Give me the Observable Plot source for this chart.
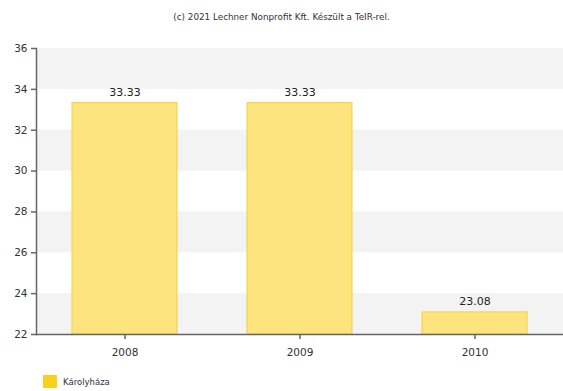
<!DOCTYPE html>
<html>
<head>
<meta charset="utf-8">
<script src="https://cdn.jsdelivr.net/npm/d3@7"></script>
<script src="https://cdn.jsdelivr.net/npm/@observablehq/plot@0.6"></script>
<style>
  body { margin: 0; background: #fff; font-family: "DejaVu Sans", Verdana, sans-serif; }
  #title { height: 30px; box-sizing: border-box; padding-top: 12px; text-align: center; font-size: 8.8px; color: #333; line-height: 10px; }
  #legend { display: flex; align-items: center; margin-left: 43px; margin-top: 11px; font-size: 8.5px; color: #333; }
  #legend .sw { width: 14px; height: 13px; background: #f9d01f; margin-right: 6px; }
  svg { display: block; }
</style>
</head>
<body>
<div id="title">(c) 2021 Lechner Nonprofit Kft. Készült a TeIR-rel.</div>
<div id="chart"></div>
<div id="legend"><div class="sw"></div><span>Károlyháza</span></div>
<script>
const years = ["2008", "2009", "2010"];
const values = [33.33, 33.33, 23.08];
const seriesName = "Károlyháza";
const yTicks = [22, 24, 26, 28, 30, 32, 34, 36];
const yMin = 22, yMax = 36;
const bandStarts = [22, 26, 30, 34];

const data = years.map((y, i) => ({year: y, value: values[i]}));
const bands = bandStarts.map(b => ({y1: b, y2: b + 2}));

const chart = Plot.plot({
  width: 563,
  height: 334,
  marginTop: 18,
  marginLeft: 36,
  marginRight: 0,
  marginBottom: 30,
  style: {fontFamily: "DejaVu Sans, Verdana, sans-serif", fontSize: "10.5px", color: "#333", background: "transparent"},
  x: {domain: years, paddingInner: 0.4, paddingOuter: 0.2, label: null, tickSize: 5, tickPadding: 9},
  y: {domain: [yMin, yMax], ticks: yTicks, label: null, tickSize: 5, tickFormat: d => d},
  marks: [
    Plot.rect(bands, {y1: "y1", y2: "y2", fill: "#f3f3f3"}),
    Plot.barY(data, {x: "year", y1: yMin, y2: "value", fill: "#fde47f", stroke: "#f3cf3f", strokeWidth: 1}),
    Plot.text(data, {x: "year", y: "value", text: d => d.value.toFixed(2), dy: -11, fontSize: 11, fill: "#222"}),
    Plot.frame({anchor: "left", stroke: "#666", strokeWidth: 1.5}),
    Plot.frame({anchor: "bottom", stroke: "#666", strokeWidth: 1.5})
  ]
});
chart.querySelectorAll('[aria-label="x-axis tick"], [aria-label="y-axis tick"]').forEach(g => { g.setAttribute("stroke", "#666"); g.setAttribute("stroke-width", "1.5"); });
document.getElementById("chart").appendChild(chart);
</script>
</body>
</html>
